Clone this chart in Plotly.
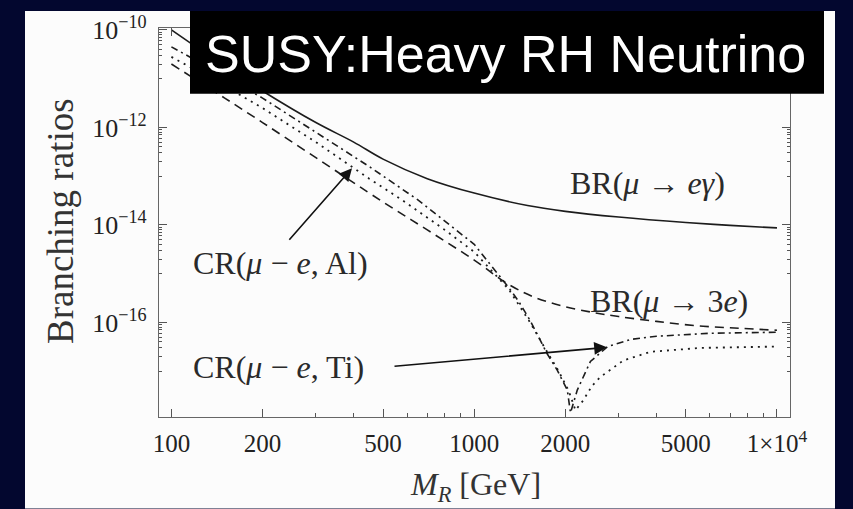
import plotly.graph_objects as go

# ---------------- data ----------------
M_br_egamma = [100, 150, 200, 300, 400, 500, 700, 1000, 1500, 2000, 3000, 5000, 7000, 10000]
br_egamma = [1.0e-10, 1.78e-11, 5.6e-12, 1.26e-12, 5.0e-13, 2.24e-13, 8.9e-14, 4.5e-14,
             2.5e-14, 1.9e-14, 1.45e-14, 1.12e-14, 9.8e-15, 8.7e-15]

M_br_3e = [100, 150, 200, 300, 500, 700, 1000, 1300, 1600, 2000, 2500, 3000, 4000, 5500, 7500, 10000]
br_3e = [2.0e-11, 4.0e-12, 1.26e-12, 2.4e-13, 2.95e-14, 7.9e-15, 1.9e-15, 6.0e-16, 3.2e-16,
         2.1e-16, 1.58e-16, 1.32e-16, 1.05e-16, 8.5e-17, 7.6e-17, 6.9e-17]

M_cr_ti = [100, 150, 200, 300, 450, 650, 1000, 1300, 1400, 1530, 1740, 1880, 2030, 2080,
           2190, 2420, 2760, 3300, 4000, 6000, 10000]
cr_ti = [4.5e-11, 1.12e-11, 4.0e-12, 7.9e-13, 1.58e-13, 3.3e-14, 4.0e-15, 5.2e-16, 2.75e-16,
         1.1e-16, 2.3e-17, 1.05e-17, 4.1e-18, 1.4e-18, 4.1e-18, 1.58e-17, 3.2e-17, 4.5e-17,
         5.2e-17, 6.0e-17, 6.3e-17]

M_cr_al = [100, 150, 200, 300, 450, 580, 800, 1000, 1300, 1530, 1740, 1900, 2050, 2160,
           2290, 2450, 2610, 3110, 3820, 5600, 10000]
cr_al = [2.8e-11, 7.1e-12, 2.5e-12, 5.0e-13, 8.9e-14, 3.2e-14, 7.9e-15, 2.8e-15, 4.8e-16,
         1.0e-16, 2.5e-17, 1.0e-17, 4.0e-18, 1.58e-18, 2.5e-18, 5.0e-18, 7.6e-18, 1.66e-17,
         2.5e-17, 3.0e-17, 3.2e-17]

x_tickvals = [100, 200, 500, 1000, 2000, 5000, 10000]
x_ticktext = ["100", "200", "500", "1000", "2000", "5000", "1×10<sup>4</sup>"]
x_minor = [300, 400, 600, 700, 800, 900, 3000, 4000, 6000, 7000, 8000, 9000]

y_tickvals = [1e-10, 1e-12, 1e-14, 1e-16]
y_ticktext = ["10<sup>−10</sup>", "10<sup>−12</sup>", "10<sup>−14</sup>", "10<sup>−16</sup>"]
y_minor = [m * 10.0 ** e for e in (-11, -13, -15, -17) for m in range(1, 10)]

# ---------------- layout helpers ----------------
W, H = 853, 509
L, R, T, B = 159, 790, 26, 417          # plot area in pixels


def px(x):
    return (x - L) / (R - L)


def py(y):
    return (B - y) / (B - T)


INK = "#1c1c1c"
SERIF = "Liberation Serif, Times New Roman, serif"

fig = go.Figure()

fig.add_trace(go.Scatter(x=M_br_egamma, y=br_egamma, mode="lines",
                         line=dict(color=INK, width=1.6), line_shape="spline"))
fig.add_trace(go.Scatter(x=M_br_3e, y=br_3e, mode="lines",
                         line=dict(color=INK, width=1.6, dash="9px,6px"), line_shape="spline"))
fig.add_trace(go.Scatter(x=M_cr_ti, y=cr_ti, mode="lines",
                         line=dict(color=INK, width=1.6, dash="7px,4px,2px,4px")))
fig.add_trace(go.Scatter(x=M_cr_al, y=cr_al, mode="lines",
                         line=dict(color=INK, width=1.8, dash="2px,5px")))

axis_common = dict(showgrid=False, zeroline=False, showline=True, linecolor="#666",
                   linewidth=1.2, mirror="allticks", ticks="inside", tickcolor="#555",
                   tickwidth=1.2, ticklen=8)

fig.update_xaxes(type="log", range=[1.959, 4.043], tickvals=x_tickvals, ticktext=x_ticktext,
                 tickfont=dict(family=SERIF, size=25, color="#222"), ticklabelstandoff=4,
                 minor=dict(tickvals=x_minor, ticks="inside", ticklen=4, tickcolor="#555"),
                 **axis_common)
fig.update_yaxes(type="log", range=[-17.94, -9.96], tickvals=y_tickvals, ticktext=y_ticktext,
                 tickfont=dict(family=SERIF, size=26, color="#222"), ticklabelstandoff=6,
                 minor=dict(tickvals=y_minor, ticks="inside", ticklen=3, tickcolor="#555"),
                 **axis_common)

shapes = [
    dict(type="rect", xref="paper", yref="paper", x0=px(25), x1=px(835), y0=py(509), y1=py(9),
         fillcolor="#fcfcfc", line=dict(width=0), layer="below"),
    dict(type="rect", xref="paper", yref="paper", x0=px(190), x1=px(824), y0=py(92), y1=py(9),
         fillcolor="#000000", line=dict(width=0), layer="above"),
]

label_font = dict(family=SERIF, size=32, color="#2a2a2a")


def text(t, x, y, font, xanchor="center", angle=0):
    return dict(text=t, xref="paper", yref="paper", x=px(x), y=py(y), xanchor=xanchor,
                yanchor="middle", textangle=angle, showarrow=False, font=font)


annotations = [
    text("SUSY:Heavy RH Neutrino", 505, 52,
         dict(family="Liberation Sans, Arial, sans-serif", size=52, color="white")),
    text("Branching ratios", 60, 220, dict(family=SERIF, size=37, color="#333"), angle=-90),
    text("<i>M</i><sub><i>R</i></sub> [GeV]", 475, 487, dict(family=SERIF, size=32, color="#333")),
    text("BR(<i>μ</i> → <i>eγ</i>)", 568, 182, label_font, xanchor="left"),
    text("BR(<i>μ</i> → 3<i>e</i>)", 588, 300, label_font, xanchor="left"),
    text("CR(<i>μ</i> − <i>e</i>, Al)", 191, 262, label_font, xanchor="left"),
    text("CR(<i>μ</i> − <i>e</i>, Ti)", 191, 367, label_font, xanchor="left"),
    dict(text="", xref="paper", yref="paper", x=px(352), y=py(167), ax=288 - 352, ay=240 - 167,
         showarrow=True, arrowhead=2, arrowsize=1.6, arrowwidth=1.6, arrowcolor="#111"),
    dict(text="", xref="paper", yref="paper", x=px(607), y=py(347), ax=393 - 607, ay=366 - 347,
         showarrow=True, arrowhead=2, arrowsize=1.6, arrowwidth=1.6, arrowcolor="#111"),
]

fig.update_layout(width=W, height=H, margin=dict(l=L, r=W - R, t=T, b=H - B),
                  paper_bgcolor="#03072f", plot_bgcolor="rgba(0,0,0,0)", showlegend=False,
                  shapes=shapes, annotations=annotations)

fig.write_html("out.html")
